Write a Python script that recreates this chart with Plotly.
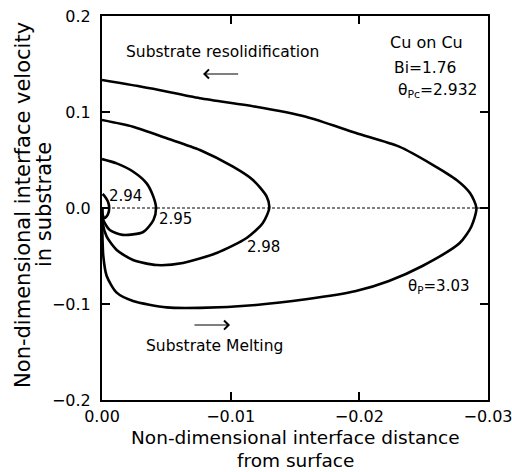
import plotly.graph_objects as go

# ---- data ----
theta_294_x = [0, -0.00005, -0.0002, -0.00045, -0.00056, -0.00048, -0.00028, -0.00005]
theta_294_y = [0, -0.007, -0.0105, -0.007, 0.0, 0.006, 0.011, 0.0146]

theta_295_x = [0, -0.00001, -0.0001, -0.0006, -0.0016, -0.0032, -0.0040, -0.0042,
               -0.00399, -0.00347, -0.00243, -0.00114, 0]
theta_295_y = [0, -0.006, -0.0125, -0.023, -0.028, -0.025, -0.0125, 0.0,
               0.0118, 0.0257, 0.0378, 0.0465, 0.051]

theta_298_x = [0, -0.00005, -0.000365, -0.00114, -0.00241, -0.00425, -0.00629, -0.00891,
               -0.01124, -0.0125, -0.0130, -0.0128, -0.01173, -0.01018, -0.00761,
               -0.00503, -0.00241, 0]
theta_298_y = [0, -0.0156, -0.0299, -0.04375, -0.0542, -0.0594, -0.0573, -0.0469,
               -0.03125, -0.0156, 0.0, 0.0118, 0.0292, 0.043, 0.0604, 0.0726, 0.0847, 0.0917]

theta_303_x = [0, -0.00002, -0.0001, -0.000365, -0.00114, -0.00241, -0.00503, -0.00761,
               -0.01197, -0.01585, -0.01974, -0.0223, -0.0249, -0.0278, -0.0287,
               -0.0291, -0.0286, -0.02756, -0.0257, -0.0231, -0.01974, -0.01585, -0.01197,
               -0.00761, -0.00373, 0]
theta_303_y = [0, -0.02, -0.05, -0.0708, -0.0882, -0.0969, -0.1035, -0.104,
               -0.101, -0.0951, -0.0865, -0.076, -0.0604, -0.0365, -0.0195,
               0.0, 0.0156, 0.0292, 0.045, 0.0639, 0.0781, 0.0951, 0.1055,
               0.1143, 0.1247, 0.1333]

zero_line_x = [0, -0.03]
zero_line_y = [0, 0]

x_ticks = [0, -0.01, -0.02, -0.03]
y_ticks = [-0.2, -0.1, 0.0, 0.1, 0.2]

FONT = "DejaVu Sans"

fig = go.Figure()

fig.add_trace(go.Scatter(x=zero_line_x, y=zero_line_y, mode="lines",
                         line=dict(color="black", width=1, dash="3px,2px"),
                         hoverinfo="skip", showlegend=False))

for xs, ys in [(theta_294_x, theta_294_y), (theta_295_x, theta_295_y),
               (theta_298_x, theta_298_y), (theta_303_x, theta_303_y)]:
    fig.add_trace(go.Scatter(x=xs, y=ys, mode="lines",
                             line=dict(color="black", width=2.6, shape="spline", smoothing=0.7),
                             showlegend=False))

ann = []

def label(x, y, text, xanchor="center", size=15.5):
    ann.append(dict(x=x, y=y, xref="x", yref="y", text=text, showarrow=False,
                    xanchor=xanchor, yanchor="middle",
                    font=dict(family=FONT, size=size, color="black")))

label(-0.0094, 0.1625, "Substrate resolidification")
label(-0.00878, -0.1438, "Substrate Melting")
label(-0.02525, 0.1719, "Cu on Cu", size=16)
label(-0.0251, 0.1458, "Bi=1.76")
label(-0.02284, 0.122, "θ<sub>Pc</sub>=2.932", xanchor="left")
label(-0.00186, 0.0125, "2.94", size=15)
label(-0.00575, -0.0115, "2.95", size=15)
label(-0.01259, -0.0406, "2.98", size=15)
label(-0.0236, -0.0815, "θ<sub>P</sub>=3.03", xanchor="left", size=15)

# arrows
ann.append(dict(x=-0.00785, y=0.1396, ax=-0.0107, ay=0.1396, xref="x", yref="y",
                axref="x", ayref="y", text="", showarrow=True, arrowhead=4,
                arrowsize=1.6, arrowwidth=1.1, arrowcolor="black"))
ann.append(dict(x=-0.00995, y=-0.1219, ax=-0.00707, ay=-0.1219, xref="x", yref="y",
                axref="x", ayref="y", text="", showarrow=True, arrowhead=4,
                arrowsize=1.6, arrowwidth=1.1, arrowcolor="black"))

# axis titles
title_font = dict(family=FONT, size=18.5, color="black")
ann.append(dict(x=0.5, y=-0.0964, xref="paper", yref="paper", text="Non-dimensional interface distance",
                showarrow=False, xanchor="center", yanchor="middle", font=title_font, borderpad=0))
ann.append(dict(x=0.5, y=-0.1875, xref="paper", yref="paper", text="from surface",
                showarrow=False, xanchor="center", yanchor="bottom", font=title_font, borderpad=0))
ann.append(dict(x=-0.2047, y=0.508, xref="paper", yref="paper", text="Non-dimensional interface velocity",
                showarrow=False, xanchor="center", yanchor="middle", textangle=-90,
                font=dict(family=FONT, size=21, color="black")))
ann.append(dict(x=-0.150, y=0.508, xref="paper", yref="paper", text="in substrate",
                showarrow=False, xanchor="center", yanchor="middle", textangle=-90,
                font=dict(family=FONT, size=21, color="black")))

axis_common = dict(showline=True, linecolor="black", linewidth=2, mirror="ticks",
                   ticks="inside", ticklen=8, tickwidth=1.5, tickcolor="black",
                   showgrid=False, zeroline=False, ticklabeloverflow="allow",
                   automargin=False,
                   tickfont=dict(family=FONT, size=16, color="black"))

fig.update_xaxes(range=[0.0000001, -0.0300001], tickvals=x_ticks, tickformat=".2f",
                 ticklabelstandoff=1, **axis_common)
fig.update_yaxes(range=[-0.2000001, 0.2000001], tickvals=y_ticks, tickformat=".1f",
                 ticklabelstandoff=6, **axis_common)

fig.update_layout(width=512, height=472,
                  margin=dict(l=102, r=24, t=16, b=72, autoexpand=False),
                  paper_bgcolor="white", plot_bgcolor="white",
                  annotations=ann, showlegend=False,
                  font=dict(family=FONT, color="black"))

fig.write_html("out.html")
